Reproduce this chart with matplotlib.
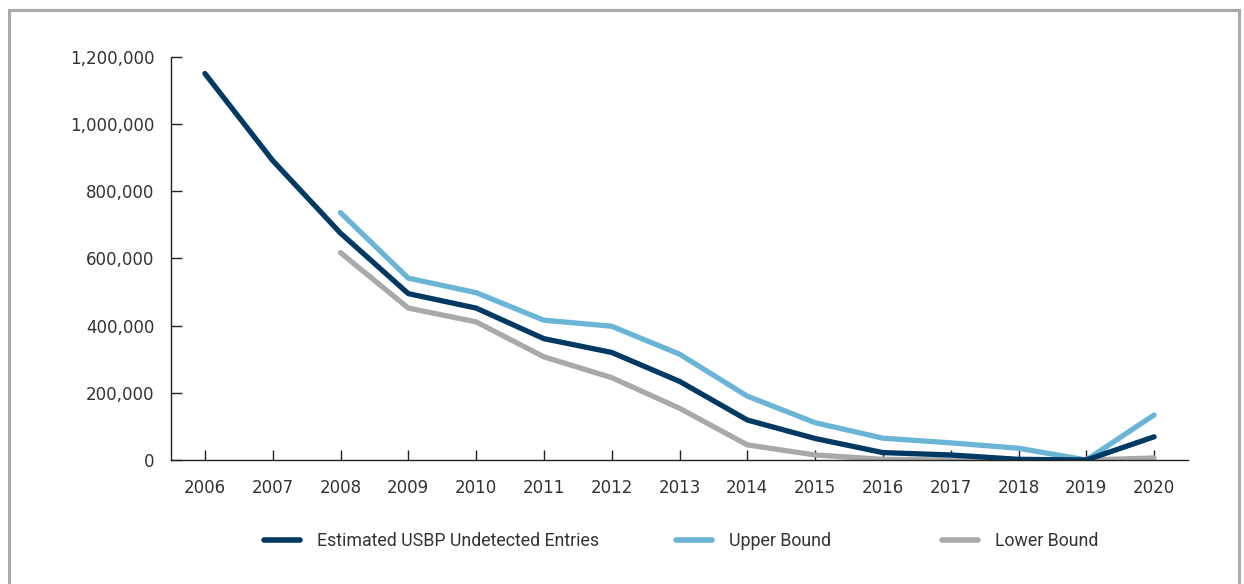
import matplotlib.pyplot as plt
from matplotlib.patches import Rectangle
from matplotlib.lines import Line2D
from matplotlib.ticker import FuncFormatter

# datos
years = [2006, 2007, 2008, 2009, 2010, 2011, 2012, 2013, 2014, 2015, 2016, 2017, 2018, 2019, 2020]
estimated = [1150000, 891000, 675000, 495000, 452000, 361000, 320000, 234000, 119000, 64000, 22000, 15000, 2000, 0, 69000]
upper_years = years[2:]
upper = [736000, 541000, 498000, 416000, 398000, 315000, 190000, 111000, 65000, 51000, 35000, 0, 134000]
lower_years = years[2:]
lower = [617000, 452000, 411000, 307000, 245000, 154000, 45000, 15000, 2000, 1000, 0, 0, 6000]

labels = ["Estimated USBP Undetected Entries", "Upper Bound", "Lower Bound"]
colors = ["#003a63", "#6ab4d6", "#a9a9a9"]

W, H = 1244, 584
fig = plt.figure(figsize=(W / 100, H / 100), dpi=100)
ax = fig.add_axes([171 / W, 1 - 460 / H, (1188 - 171) / W, (460 - 56.7) / H])

lw = 3.8
ax.plot(upper_years, upper, color=colors[1], lw=lw, solid_capstyle="round", solid_joinstyle="round")
ax.plot(lower_years, lower, color=colors[2], lw=lw, solid_capstyle="round", solid_joinstyle="round")
ax.plot(years, estimated, color=colors[0], lw=lw, solid_capstyle="round", solid_joinstyle="round")

ax.set_xlim(2005.5, 2020.5)
ax.set_ylim(0, 1200000)
ax.set_xticks(years)
ax.set_yticks(range(0, 1200001, 200000))
ax.yaxis.set_major_formatter(FuncFormatter(lambda v, p: f"{int(v):,}"))

for s in ["top", "right"]:
    ax.spines[s].set_visible(False)
for s in ["left", "bottom"]:
    ax.spines[s].set_color("#222222")
    ax.spines[s].set_linewidth(1.0)

ax.tick_params(axis="y", direction="in", length=8, width=1, color="#222222",
               labelsize=12, labelcolor="#333333", pad=12)
ax.tick_params(axis="x", direction="in", length=7, width=1, color="#222222",
               labelsize=12, labelcolor="#333333", pad=14)

# leyenda, una entrada por posicion
legend_x = [264, 676, 942]
for lab, col, x in zip(labels, colors, legend_x):
    h = Line2D([], [], color=col, lw=4, solid_capstyle="round")
    fig.legend([h], [lab], loc="center left", bbox_to_anchor=(x / W, 1 - 541 / H),
               frameon=False, handlelength=2.0, handletextpad=1.0,
               prop={"family": ["Roboto", "DejaVu Sans"], "size": 12.8},
               labelcolor="#333333", borderpad=0, borderaxespad=0)

# marco gris
fig.patches.append(Rectangle((9 / W, -0.05), (1239 - 9) / W, 1.05 - 10 / H,
                             transform=fig.transFigure, fill=False,
                             edgecolor="#aaaaaa", lw=2.2))

fig.savefig("out.png", dpi=100)
